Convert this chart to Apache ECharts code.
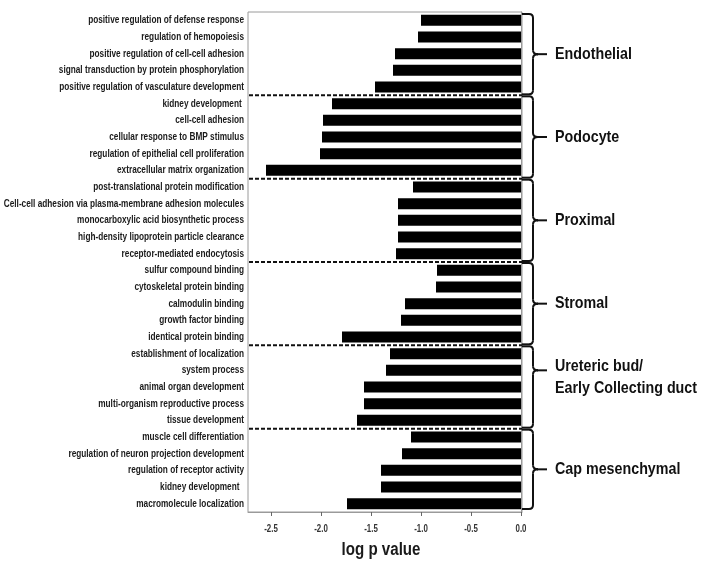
<!DOCTYPE html>
<html>
<head>
<meta charset="utf-8">
<style>
  html, body { margin: 0; padding: 0; background: #fff; }
  #chart { width: 701px; height: 563px; }
</style>
<script src="https://cdn.jsdelivr.net/npm/echarts@6/dist/echarts.min.js"></script>
</head>
<body>
<div id="chart"></div>
<script>
// GO terms, top to bottom
const categories = [
  'positive regulation of defense response',
  'regulation of hemopoiesis',
  'positive regulation of cell-cell adhesion',
  'signal transduction by protein phosphorylation',
  'positive regulation of vasculature development',
  'kidney development ',
  'cell-cell adhesion',
  'cellular response to BMP stimulus',
  'regulation of epithelial cell proliferation',
  'extracellular matrix organization',
  'post-translational protein modification',
  'Cell-cell adhesion via plasma-membrane adhesion molecules',
  'monocarboxylic acid biosynthetic process',
  'high-density lipoprotein particle clearance',
  'receptor-mediated endocytosis',
  'sulfur compound binding',
  'cytoskeletal protein binding',
  'calmodulin binding',
  'growth factor binding',
  'identical protein binding',
  'establishment of localization',
  'system process',
  'animal organ development',
  'multi-organism reproductive process',
  'tissue development',
  'muscle cell differentiation',
  'regulation of neuron projection development',
  'regulation of receptor activity',
  'kidney development  ',
  'macromolecule localization'
];

// log p values
const logP = [
  -1.00, -1.03, -1.26, -1.28, -1.46,
  -1.89, -1.98, -1.99, -2.01, -2.55,
  -1.08, -1.23, -1.23, -1.23, -1.25,
  -0.84, -0.85, -1.16, -1.20, -1.79,
  -1.31, -1.35, -1.57, -1.57, -1.64,
  -1.10, -1.19, -1.40, -1.40, -1.74
];

// cell-type groups and how many terms each holds
const groupNames = ['Endothelial', 'Podocyte', 'Proximal', 'Stromal', 'Ureteric bud/\nEarly Collecting duct', 'Cap mesenchymal'];
const groupSizes = [5, 5, 5, 5, 5, 5];

const xTicks = [-2.5, -2.0, -1.5, -1.0, -0.5, 0.0];
const xTitle = 'log p value';

const FONT = '"Liberation Sans", Arial, sans-serif';
// narrow-face look: horizontal squeeze applied to the text glyphs
const NARROW = 0.75;

const chart = echarts.init(document.getElementById('chart'), null, { renderer: 'canvas' });

chart.setOption({
  animation: false,
  backgroundColor: '#fff',
  grid: {
    left: 248, right: 179, top: 12, height: 500,
    outerBoundsMode: 'none', containLabel: false,
    show: true, borderColor: '#9a9a9a', borderWidth: 1, backgroundColor: 'transparent'
  },
  xAxis: {
    type: 'value',
    min: -2.73, max: 0.01,
    axisLine: { show: true, lineStyle: { color: '#9a9a9a', width: 1 } },
    axisTick: { show: true, customValues: xTicks, length: 4, lineStyle: { color: '#666' } },
    axisLabel: { show: false, customValues: xTicks },
    splitLine: { show: false }
  },
  yAxis: {
    type: 'category',
    inverse: true,
    data: categories,
    axisLine: { show: true, lineStyle: { color: '#9a9a9a' } },
    axisTick: { show: false },
    axisLabel: { show: false }
  },
  series: [{
    type: 'bar',
    data: logP,
    barWidth: 11,
    itemStyle: { color: '#000' }
  }]
});

function narrowText(x, y, text, size, align, vAlign, extra) {
  return {
    type: 'text', z: 10, x: x, y: y, scaleX: NARROW,
    style: Object.assign({
      text: text, fontFamily: FONT, fontSize: size, fontWeight: 'bold', fill: '#1a1a1a',
      align: align, verticalAlign: vAlign
    }, extra || {})
  };
}

// labels, group separators, braces and group names placed from the axis scales
function drawAnnotations() {
  const yAt = i => chart.convertToPixel({ yAxisIndex: 0 }, i);
  const xAt = v => chart.convertToPixel({ xAxisIndex: 0 }, v);
  const band = yAt(1) - yAt(0);
  const xLeft = xAt(-2.73);
  const xRight = xAt(0.01);
  const yBottom = yAt(categories.length - 1) + band / 2;
  const elements = [];

  // term labels
  categories.forEach((c, i) => {
    elements.push(narrowText(xLeft - 4, yAt(i), c, 11, 'right', 'middle'));
  });
  // tick labels
  xTicks.forEach(v => {
    elements.push(narrowText(xAt(v), yBottom + 12, v.toFixed(1), 10.5, 'center', 'top', { fill: '#333' }));
  });
  // axis title
  elements.push(Object.assign(narrowText((xLeft + xRight) / 2 - 4, yBottom + 38, xTitle, 18, 'center', 'middle'), { scaleX: 0.84 }));

  let start = 0;
  groupSizes.forEach((n, g) => {
    const y0 = yAt(start) - band / 2;
    const y1 = yAt(start + n - 1) + band / 2;
    if (g > 0) {
      elements.push({
        type: 'line', z: 10,
        shape: { x1: xLeft + 1, y1: y0, x2: xRight, y2: y0 },
        style: { stroke: '#111', lineWidth: 2, lineDash: [4, 2] }
      });
    }
    const top = y0 + (g === 0 ? 2 : 1);
    const bot = y1 - (g === groupSizes.length - 1 ? 3 : 1);
    const twoLine = groupNames[g].indexOf('\n') >= 0;
    // two-line labels put the brace point next to the first line
    const mid = twoLine ? (top + bot) / 2 - band : (top + bot) / 2;
    const textY = twoLine ? mid + 7 : mid;
    const xa = xRight, xv = xRight + 11, r = 4;
    const st = { stroke: '#111', lineWidth: 2, fill: null };
    const seg = (x1, y1, x2, y2) => ({ type: 'line', z: 10, shape: { x1, y1, x2, y2 }, style: st });
    const curve = (x1, y1, cx, cy, x2, y2) => ({ type: 'bezierCurve', z: 10, shape: { x1, y1, cpx1: cx, cpy1: cy, x2, y2 }, style: st });
    elements.push(
      seg(xa, top, xv - r, top),
      curve(xv - r, top, xv, top, xv, top + r),
      seg(xv, top + r, xv, mid - r),
      curve(xv, mid - r, xv, mid, xv + r + 1, mid),
      curve(xv + r + 1, mid, xv, mid, xv, mid + r),
      seg(xv, mid + r, xv, bot - r),
      curve(xv, bot - r, xv, bot, xv - r, bot),
      seg(xv - r, bot, xa, bot),
      seg(xv + r, mid, xv + 14, mid)
    );
    elements.push(Object.assign(
      narrowText(xv + 22, textY, groupNames[g], 17, 'left', 'middle', { lineHeight: 22, fill: '#111' }),
      { scaleX: 0.84 }
    ));
    start += n;
  });
  chart.setOption({ graphic: { elements } });
}
drawAnnotations();
</script>
</body>
</html>
